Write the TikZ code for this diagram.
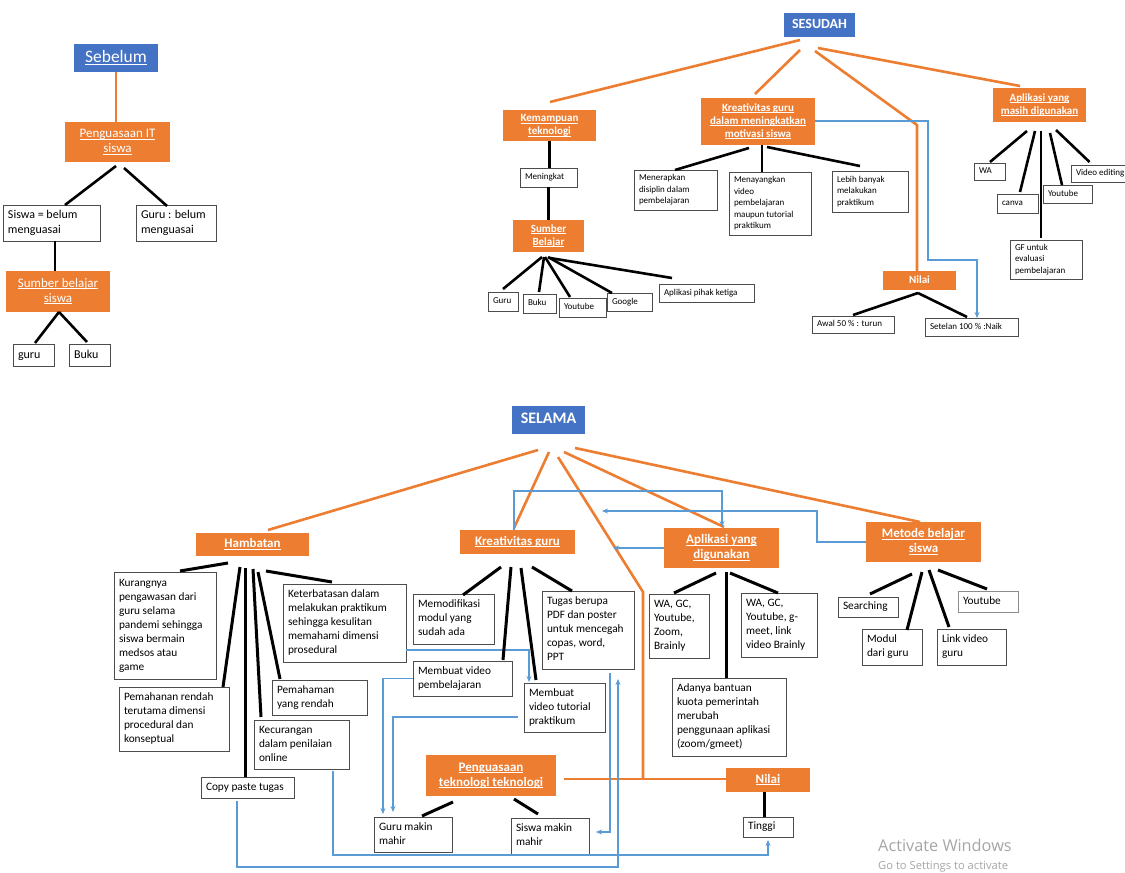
\documentclass[tikz,border=0pt]{standalone}
\usepackage{fontspec}
\setmainfont{Carlito}
\newfontfamily\winfont{Open Sans}
\usetikzlibrary{calc,arrows.meta}
\definecolor{ora}{HTML}{ED7D31}
\definecolor{blu}{HTML}{4472C4}
\definecolor{lbl}{HTML}{5B9BD5}
\newcommand\hul[1]{\leavevmode\setbox0\hbox{#1}\rlap{\vrule height -.1em depth .16em width \wd0}\box0}
\newcommand\bx[8][]{%
  \pgfmathsetmacro\bxw{#5-#3}%
  \pgfmathsetmacro\bxh{#6-#4}%
  \pgfmathsetmacro\bxt{#5-#3-10}%
  \node[bxs,#1,minimum width=\bxw pt,minimum height=\bxh pt] (#2) at (#3,#4)
    {\makebox[\bxt pt][#7]{\begin{tabular}{@{}#7@{}}#8\end{tabular}}};}
\tikzset{
 bxs/.style={draw=black!70, line width=0.7pt, fill=white, anchor=north west, inner xsep=5pt, inner ysep=1pt, outer sep=0pt, text=black},
 ob/.style={fill=ora, draw=none, text=white},
 bb/.style={fill=blu, draw=none, text=white},
 f9/.style={font=\fontsize{9}{11.4}\selectfont},
 f115/.style={font=\fontsize{11.3}{14}\selectfont},
 f12/.style={font=\fontsize{12}{15}\selectfont},
 fh13/.style={font=\fontsize{13}{15}\selectfont},
 fb11/.style={font=\fontsize{11}{13}\selectfont\bfseries},
 fb13/.style={font=\fontsize{13}{15}\selectfont\bfseries},
 bk/.style={draw=black, line width=2.6pt},
 bkl/.style={draw=black, line width=3pt},
 oc/.style={draw=ora, line width=2.6pt},
 bc/.style={draw=lbl, line width=1.6pt},
 ar/.style={-{Stealth[length=6pt,width=5pt]}},
 wm/.style={text=black!35, anchor=base west, inner sep=0pt},
}
\begin{document}
\begin{tikzpicture}[x=1pt,y=-1pt]
\fill[white] (0,0) rectangle (1125,873);
\useasboundingbox (0,0) rectangle (1125,873);

% ---------- Sebelum ----------
\bx[bb,font=\fontsize{17.5}{20}\selectfont]{seb}{74}{44}{158}{72}{c}{\hul{Sebelum}}
\bx[ob,fh13]{pit}{65}{122}{170}{162}{c}{\hul{Penguasaan IT}\\\hul{siswa}}
\bx[f12]{sbm}{3}{205}{100}{241}{l}{Siswa = belum\\menguasai}
\bx[f12]{gbm}{136}{205}{216}{241}{l}{Guru : belum\\menguasai}
\bx[ob,fh13]{sbs}{6}{271}{110}{312}{c}{\hul{Sumber belajar}\\\hul{siswa}}
\bx[f12]{sgu}{13}{344}{54}{366}{l}{guru}
\bx[f12]{sbk}{69}{344}{110}{366}{l}{Buku}

\draw[oc,line width=2pt] (seb.south) -- (seb.south |- pit.north);
\draw[bk] ($(pit.south)+(-1.5,4)$) -- ($(sbm.north)+(13.5,0)$);
\draw[bk] ($(pit.south)+(6.5,6)$) -- ($(gbm.north)+(-9,1)$);
\draw[bk] ($(sbm.south)+(3.5,0)$) -- ($(sbs.north)+(-3,0)$);
\draw[bk] ($(sbs.south)+(1,0)$) -- ($(sgu.north)+(1.5,-1)$);
\draw[bk] ($(sbs.south)+(1,0)$) -- ($(sbk.north)+(-2.5,-2)$);

% ---------- SESUDAH ----------
\bx[bb,font=\fontsize{14}{17}\selectfont\bfseries]{ses}{784}{13}{855}{37}{c}{SESUDAH}
\bx[ob,fb11]{kem}{503}{110}{596}{141}{c}{\hul{Kemampuan}\\\hul{teknologi}}
\bx[f9]{men}{520}{168}{577}{187}{l}{Meningkat}
\bx[ob,fb11]{sbl}{513}{220}{584}{252}{c}{\hul{Sumber}\\\hul{Belajar}}
\bx[f9]{g1}{488}{292}{518}{311}{l}{Guru}
\bx[f9]{b1}{523}{294}{556}{313}{l}{Buku}
\bx[f9]{y1}{559}{298}{606}{317}{l}{Youtube}
\bx[f9]{go1}{607}{293}{652}{311}{l}{Google}
\bx[f9]{ap1}{659}{284}{754}{302}{l}{Aplikasi pihak ketiga}
\bx[ob,fb11]{kre}{701}{98}{815}{145}{c}{\hul{Kreativitas guru}\\\hul{dalam meningkatkan}\\\hul{motivasi siswa}}
\bx[f9]{mnr}{634}{170}{717}{210}{l}{Menerapkan\\disiplin dalam\\pembelajaran}
\bx[f9]{mny}{729}{172}{811}{235}{l}{Menayangkan\\video\\pembelajaran\\maupun tutorial\\praktikum}
\bx[f9]{lbh}{832}{171}{908}{212}{l}{Lebih banyak\\melakukan\\praktikum}
\bx[ob,fb11]{nil}{883}{271}{956}{290}{c}{Nilai}
\bx[f9]{awl}{812}{316}{894}{333}{l}{Awal 50 \% : turun}
\bx[f9]{stl}{925}{318}{1018}{336}{l}{Setelan 100 \% :Naik}
\bx[ob,fb11]{apm}{993}{88}{1086}{122}{c}{\hul{Aplikasi yang}\\\hul{masih digunakan}}
\bx[f9]{wa}{974}{163}{1005}{180}{l}{WA}
\bx[f9]{cnv}{997}{194}{1038}{213}{l}{canva}
\bx[f9]{yt2}{1043}{185}{1092}{203}{l}{Youtube}
\bx[f9]{vid}{1071}{165}{1141}{182}{l}{Video editing}
\bx[f9]{gf}{1010}{240}{1082}{279}{l}{GF untuk\\evaluasi\\pembelajaran}

\draw[oc] ($(ses.south)+(-19.5,3)$) -- ($(kem.north)+(0.5,-8)$);
\draw[oc] ($(ses.south)+(-19.5,13)$) -- ($(kre.north)+(-3,-4)$);
\draw[oc] ($(ses.south)+(-4.5,14)$) -- ($(nil.north)+(-2.5,-146)$) -- ($(nil.north)+(-2.5,0)$);
\draw[oc] ($(ses.south)+(-1.5,11)$) -- ($(apm.north)+(-19.5,-2)$);
\draw[bc,ar] ($(kre.east)+(0,-0.5)$) -| ($(stl.north)+(-43.5,-58)$) -| ($(stl.north)+(5.5,0)$);

\draw[bk] (kem.south) -- (kem.south |- men.north);
\draw[bk] (men.south) -- (men.south |- sbl.north);
\draw[bk] ($(sbl.south)+(-6.5,5)$) -- ($(g1.north)+(0,-3)$);
\draw[bk] ($(sbl.south)+(-4.5,5)$) -- ($(b1.north)+(-0.5,-2)$);
\draw[bk] ($(sbl.south)+(-3.5,5)$) -- ($(y1.north)+(-12.5,-1)$);
\draw[bk] ($(sbl.south)+(-0.5,5)$) -- ($(go1.north)+(-17.5,0)$);
\draw[bk] ($(sbl.south)+(1.5,6)$) -- ($(ap1.north)+(-34.5,-6)$);
\draw[bk] ($(kre.south)+(-9,3)$) -- ($(mnr.north)+(-0.5,0)$);
\draw[bk] ($(kre.south)+(4,0)$) -- ($(mny.north)+(-8,0)$);
\draw[bk] ($(kre.south)+(9,2)$) -- ($(lbh.north)+(-10,-5)$);
\draw[bk] ($(nil.south)+(-1.5,3)$) -- ($(awl.north)+(0,-1)$);
\draw[bk] ($(nil.south)+(-1.5,3)$) -- ($(stl.north)+(-4.5,-1)$);
\draw[bk] ($(apm.south)+(-12.5,9)$) -- ($(wa.north)+(0.5,-1)$);
\draw[bk] ($(apm.south)+(-4.5,9)$) -- ($(cnv.north)+(2.5,-2)$);
\draw[bk] ($(apm.south)+(1.5,9)$) -- ($(gf.north)+(-5,-2)$);
\draw[bk] ($(apm.south)+(10.5,11)$) -- ($(yt2.north)+(-5.5,0)$);
\draw[bk] ($(apm.south)+(16.5,8)$) -- ($(vid.north)+(-16.5,-3)$);

% ---------- SELAMA ----------
\bx[bb,font=\fontsize{16}{19}\selectfont\bfseries]{sel}{512}{406}{585}{434}{c}{SELAMA}
\bx[ob,fb13]{hb}{196}{533}{309}{556}{c}{\hul{Hambatan}}
\bx[ob,fb13]{kg}{460}{530}{575}{554}{c}{\hul{Kreativitas guru}}
\bx[ob,fb13]{ap}{664}{528}{779}{568}{c}{\hul{Aplikasi yang}\\\hul{digunakan}}
\bx[ob,fb13]{mt}{866}{522}{981}{562}{c}{\hul{Metode belajar}\\\hul{siswa}}
\bx[f115]{kur}{114}{572}{216}{679}{l}{Kurangnya\\pengawasan dari\\guru selama\\pandemi sehingga\\siswa bermain\\medsos atau\\game}
\bx[f115]{phr}{119}{687}{229}{751}{l}{Pemahanan rendah\\terutama dimensi\\procedural dan\\konseptual}
\bx[f115]{ket}{283}{584}{406}{662}{l}{Keterbatasan dalam\\melakukan praktikum\\sehingga kesulitan\\memahami dimensi\\prosedural}
\bx[f115]{pyr}{272}{680}{367}{715}{l}{Pemahaman\\yang rendah}
\bx[f115]{kec}{254}{720}{349}{769}{l}{Kecurangan\\dalam penilaian\\online}
\bx[f115]{cpt}{201}{777}{294}{798}{l}{Copy paste tugas}
\bx[f115]{mod}{413}{594}{494}{644}{l}{Memodifikasi\\modul yang\\sudah ada}
\bx[f115]{tgs}{542}{591}{634}{669}{l}{Tugas berupa\\PDF dan poster\\untuk mencegah\\copas, word,\\PPT}
\bx[f115]{mvp}{413}{661}{512}{696}{l}{Membuat video\\pembelajaran}
\bx[f115]{mvt}{524}{683}{605}{732}{l}{Membuat\\video tutorial\\praktikum}
\bx[f115]{wa1}{649}{594}{709}{658}{l}{WA, GC,\\Youtube,\\Zoom,\\Brainly}
\bx[f115]{wa2}{741}{593}{817}{657}{l}{WA, GC,\\Youtube, g-\\meet, link\\video Brainly}
\bx[f115]{ady}{672}{678}{786}{756}{l}{Adanya bantuan\\kuota pemerintah\\merubah\\penggunaan aplikasi\\(zoom/gmeet)}
\bx[f115]{src}{838}{597}{898}{617}{l}{Searching}
\bx[f115]{mdg}{862}{629}{922}{665}{l}{Modul\\dari guru}
\bx[f115]{lvg}{937}{629}{1006}{665}{l}{Link video\\guru}
\bx[f115,draw=black!45]{yt3}{958}{591}{1018}{612}{l}{Youtube}
\bx[ob,fb13]{ptt}{426}{755}{556}{796}{c}{\hul{Penguasaan}\\\hul{teknologi teknologi}}
\bx[f115]{gmm}{374}{817}{452}{852}{l}{Guru makin\\mahir}
\bx[f115]{smm}{511}{818}{589}{854}{l}{Siswa makin\\mahir}
\bx[ob,fb13]{nl2}{726}{768}{810}{792}{c}{\hul{Nilai}}
\bx[f115]{tgi}{743}{817}{793}{837}{l}{Tinggi}

\draw[oc] ($(sel.south)+(-10.5,16)$) -- ($(hb.north)+(15.5,-3)$);
\draw[oc] ($(sel.south)+(0.5,18)$) -- ($(kg.north)+(-3.5,-2)$);
\draw[oc] ($(sel.south)+(9.5,23)$) -- ($(nl2.west)+(-83,-188)$) -- ($(nl2.west)+(-83,-1)$);
\draw[oc] ($(ptt.east)+(8,3.5)$) -- ($(nl2.west)+(0,-1)$);
\draw[oc] ($(sel.south)+(15.5,18)$) -- ($(ap.north)+(2.5,-1)$);
\draw[oc] ($(sel.south)+(26.5,14)$) -- ($(mt.north)+(-3.5,0)$);

\draw[bc,ar] ($(kg.north)+(-3.5,0)$) |- ($(ap.north)+(0.5,-37)$) -- ($(ap.north)+(0.5,-1)$);
\draw[bc,ar] (mt.west) -- ++(-49,0) |- ($(kg.east)+(27,-31)$);
\draw[bc,ar] (ap.west) -- ++(-51,0);
\draw[bc,ar] ($(ket.south east)+(0,-12)$) -| ($(mvt.north)+(-35.5,-1)$);
\draw[bc,ar] (mvp.west) -| ($(gmm.north)+(-30,-3)$);
\draw[bc,ar] ($(mvt.west)+(-6,9.5)$) -| ($(gmm.north)+(-20,-5)$);
\draw[bc,ar] ($(tgs.south)+(22,4)$) |- ($(smm.east)+(7,-4)$);
\draw[bc,ar] ($(cpt.south)+(-10.5,3)$) |- ($(tgs.south)+(30,198)$) -- ($(tgs.south)+(30,10)$);
\draw[bc,ar] ($(kec.south)+(31.5,2)$) |- ($(tgi.south)+(0,18)$) -- ($(tgi.south)+(0,3)$);

\draw[bkl] ($(hb.south)+(-24.5,7)$) -- ($(kur.north)+(15,-1)$);
\draw[bkl] ($(hb.south)+(-12.5,11)$) -- ($(phr.north)+(49,0)$);
\draw[bkl] ($(hb.south)+(-7.5,12)$) -- ($(cpt.north)+(-2.5,0)$);
\draw[bkl] ($(hb.south)+(0.5,13)$) -- ($(kec.north)+(-40.5,-3)$);
\draw[bkl] ($(hb.south)+(5.5,16)$) -- ($(pyr.north)+(-39.5,-1)$);
\draw[bkl] ($(hb.south)+(13.5,15)$) -- ($(ket.north)+(-12.5,-2)$);
\draw[bkl] ($(kg.south)+(-16.5,13)$) -- ($(mod.north)+(9.5,1)$);
\draw[bkl] ($(kg.south)+(-6.5,13)$) -- ($(mvp.north)+(40.5,-1)$);
\draw[bkl] ($(kg.south)+(3.5,14)$) -- ($(mvt.north)+(-28.5,-3)$);
\draw[bkl] ($(kg.south)+(14.5,13)$) -- ($(tgs.north)+(-16,0)$);
\draw[bkl] ($(ap.south)+(-5.5,5)$) -- ($(wa1.north)+(-5,-1)$);
\draw[bkl] ($(ap.south)+(4.5,4)$) -- ($(ady.north)+(-3,0)$);
\draw[bkl] ($(ap.south)+(8.5,5)$) -- ($(wa2.north)+(-1,0)$);
\draw[bkl] ($(mt.south)+(-11.5,12)$) -- ($(src.north)+(2,-3)$);
\draw[bkl] ($(mt.south)+(-1.5,10)$) -- ($(mdg.north)+(15,1)$);
\draw[bkl] ($(mt.south)+(5.5,8)$) -- ($(lvg.north)+(-22.5,-2)$);
\draw[bkl] ($(mt.south)+(14.5,8)$) -- ($(yt3.north)+(-1,-2)$);
\draw[bkl] ($(ptt.south)+(-38,6)$) -- ($(gmm.north)+(9,-1)$);
\draw[bkl] ($(ptt.south)+(23,3)$) -- ($(smm.north)+(-12,-4)$);
\draw[bkl] ($(nl2.south)+(-4,0)$) -- ($(tgi.north)+(-4,0)$);

% watermark
\node[wm,font=\winfont\fontsize{16.3}{19}\selectfont] (wm1) at (878,851) {Activate Windows};
\node[wm,font=\winfont\fontsize{11.2}{13}\selectfont] (wm2) at (878,869) {Go to Settings to activate};
\end{tikzpicture}
\end{document}
